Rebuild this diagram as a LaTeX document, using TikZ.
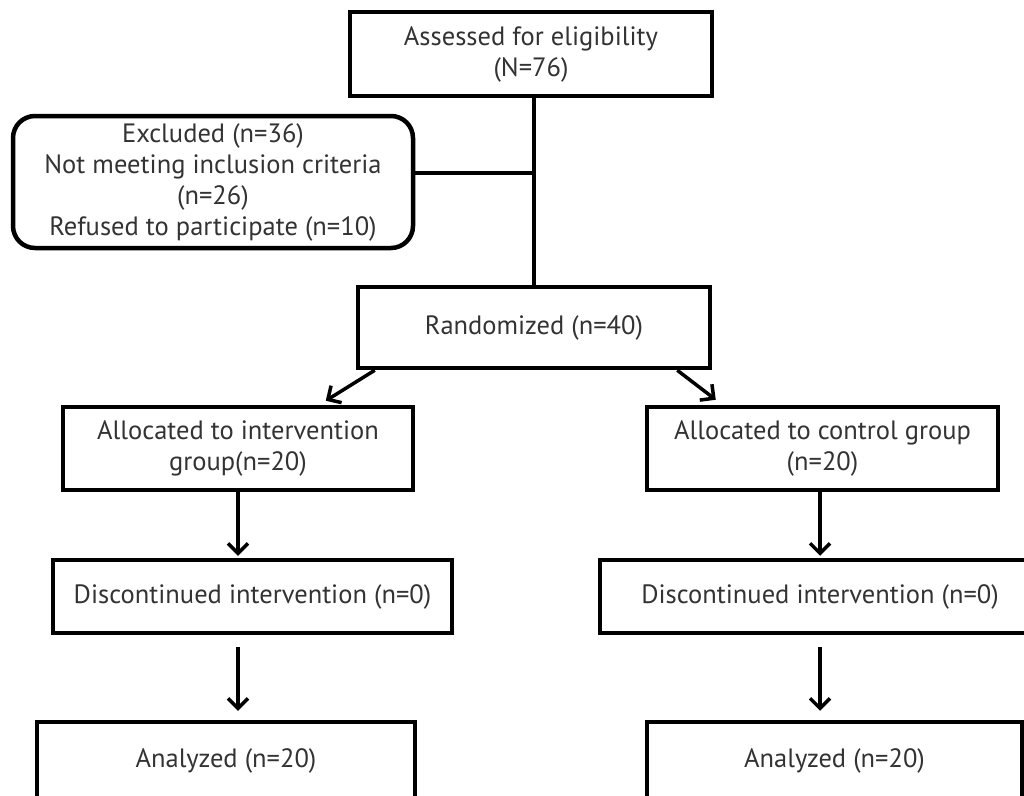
\documentclass[tikz,border=0pt]{standalone}
\usepackage{fontspec}
\setmainfont{PT Sans}
\usetikzlibrary{arrows.meta}
\begin{document}
\begin{tikzpicture}[x=1pt,y=-1pt,
  box/.style={draw=black,line width=4.5pt,fill=white,inner sep=0pt,align=center,
    font=\fontsize{26.5}{31}\selectfont,text=black!80},
  rbox/.style={box,rounded corners=22pt},
  link/.style={line width=3.5pt},
  arr/.style={line width=3.5pt,-{Straight Barb[length=10pt,width=20pt,line width=3.5pt]}}
]
\useasboundingbox (0,0) rectangle (1024,795);
\node[box,minimum width=362pt,minimum height=84pt] (assess) at (531,54) {Assessed for eligibility\\(N=76)};
\node[rbox,minimum width=400pt,minimum height=132pt] (excl) at (213,182) {Excluded (n=36)\\Not meeting inclusion criteria\\(n=26)\\Refused to participate (n=10)};
\node[box,minimum width=352pt,minimum height=81pt] (rand) at (534,327.5) {Randomized (n=40)};
\node[box,minimum width=350pt,minimum height=83pt] (int) at (238,448.5) {Allocated to intervention\\group(n=20)};
\node[box,minimum width=351pt,minimum height=83pt] (ctl) at (822.5,448.5) {Allocated to control group\\(n=20)};
\node[box,minimum width=399pt,minimum height=73pt] (disL) at (252.5,596.5) {Discontinued intervention (n=0)};
\node[box,minimum width=440pt,minimum height=73pt] (disR) at (820,596.5) {Discontinued intervention (n=0)};
\node[box,minimum width=378pt,minimum height=78pt] (anaL) at (226,761) {Analyzed (n=20)};
\node[box,minimum width=375pt,minimum height=78pt] (anaR) at (834.5,761) {Analyzed (n=20)};
\coordinate (j) at (534,173);
\draw[link] (assess.south -| j) -- (rand.north);
\draw[link] (excl.east |- j) -- (j);
\draw[arr] ([xshift=19pt]rand.south west) -- ([xshift=265pt,yshift=4pt]int.north west);
\draw[arr] ([xshift=-35pt]rand.south east) -- ([xshift=71pt,yshift=5pt]ctl.north west);
\draw[arr] (int.south) -- ([yshift=2pt]int.south |- disL.north);
\draw[arr] (ctl.south -| disR.north) -- ([yshift=2pt]disR.north);
\draw[arr] ([yshift=-12pt]int.south |- disL.south) -- ([yshift=9pt]int.south |- anaL.north);
\draw[arr] ([yshift=-12pt]disR.south) -- ([yshift=9pt]disR.south |- anaR.north);
\end{tikzpicture}
\end{document}
